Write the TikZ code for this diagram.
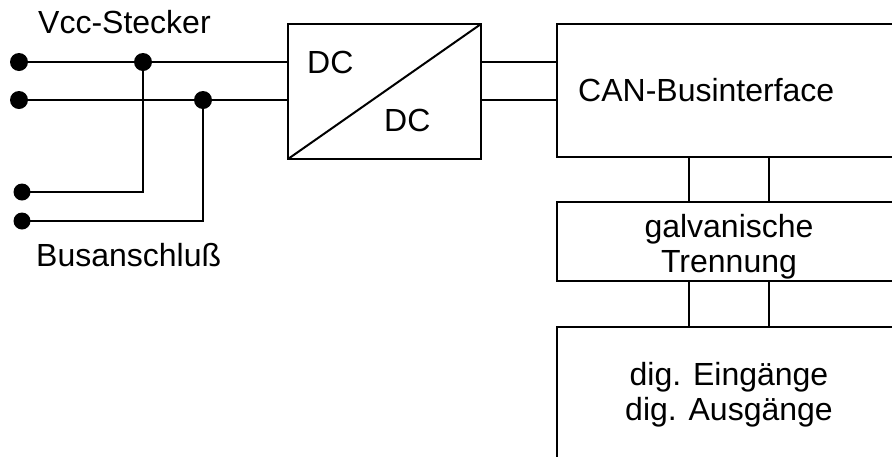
\documentclass[tikz,border=0pt]{standalone}
\usepackage{fontspec}
\setmainfont{Liberation Sans}
\begin{document}
\begin{tikzpicture}[x=1pt,y=-1pt,
  wire/.style={line width=2pt},
  blk/.style={draw,line width=2pt,anchor=north west,inner sep=0pt,outer sep=0pt},
  dotnode/.style={circle,fill=black,inner sep=0pt,minimum size=18pt},
  lbl/.style={inner sep=0pt,font=\fontsize{32}{35}\selectfont},
]
\useasboundingbox (0,0) rectangle (892,456);
\clip (0,0) rectangle (892,456);
% blocks
\node[blk,minimum width=193pt,minimum height=135pt] (dc) at (288,24) {};
\node[blk,minimum width=400pt,minimum height=133pt] (can) at (557,24) {};
\node[blk,minimum width=400pt,minimum height=79pt] (gal) at (557,202) {};
\node[blk,minimum width=400pt,minimum height=200pt] (dig) at (557,327) {};
\draw[wire] (dc.south west) -- (dc.north east);
% texts
\node[lbl,anchor=base west] (vcc) at (38,33) {Vcc-Stecker};
\node[lbl,anchor=base west] (bus) at (36,266) {Busanschluß};
\node[lbl,anchor=base west] (dc1) at (307,73) {DC};
\node[lbl,anchor=base west] (dc2) at (384,131) {DC};
\node[lbl,anchor=base west] (cant) at (578,101) {CAN-Businterface};
\node[lbl,anchor=base,align=center] (galt) at (729,272) {galvanische\\Trennung};
\node[lbl,anchor=base,align=center] (digt) at (729,420) {dig. Eingänge\\dig. Ausgänge};
% dots
\node[dotnode] (a1) at (19,62) {};
\node[dotnode] (a2) at (19,100) {};
\node[dotnode] (j1) at (143,62) {};
\node[dotnode] (j2) at (203,100) {};
\node[dotnode,minimum size=17pt] (b1) at (22,192) {};
\node[dotnode,minimum size=17pt] (b2) at (22,221) {};
% wires
\coordinate (d1) at (288,62);
\coordinate (d2) at (288,100);
\coordinate (e1) at (481,62);
\coordinate (e2) at (481,100);
\coordinate (c1) at (557,62);
\coordinate (c2) at (557,100);
\draw[wire] (a1.center) -- (d1);
\draw[wire] (a2.center) -- (d2);
\draw[wire] (j1.center) -- (j1.center |- b1.center) -- (b1.center);
\draw[wire] (j2.center) -- (j2.center |- b2.center) -- (b2.center);
\draw[wire] (e1) -- (c1);
\draw[wire] (e2) -- (c2);
\coordinate (v1) at (689,157);
\coordinate (v2) at (769,157);
\draw[wire] (v1) -- (v1 |- gal.north);
\draw[wire] (v2) -- (v2 |- gal.north);
\draw[wire] (v1 |- gal.south) -- (v1 |- dig.north);
\draw[wire] (v2 |- gal.south) -- (v2 |- dig.north);
\end{tikzpicture}
\end{document}
